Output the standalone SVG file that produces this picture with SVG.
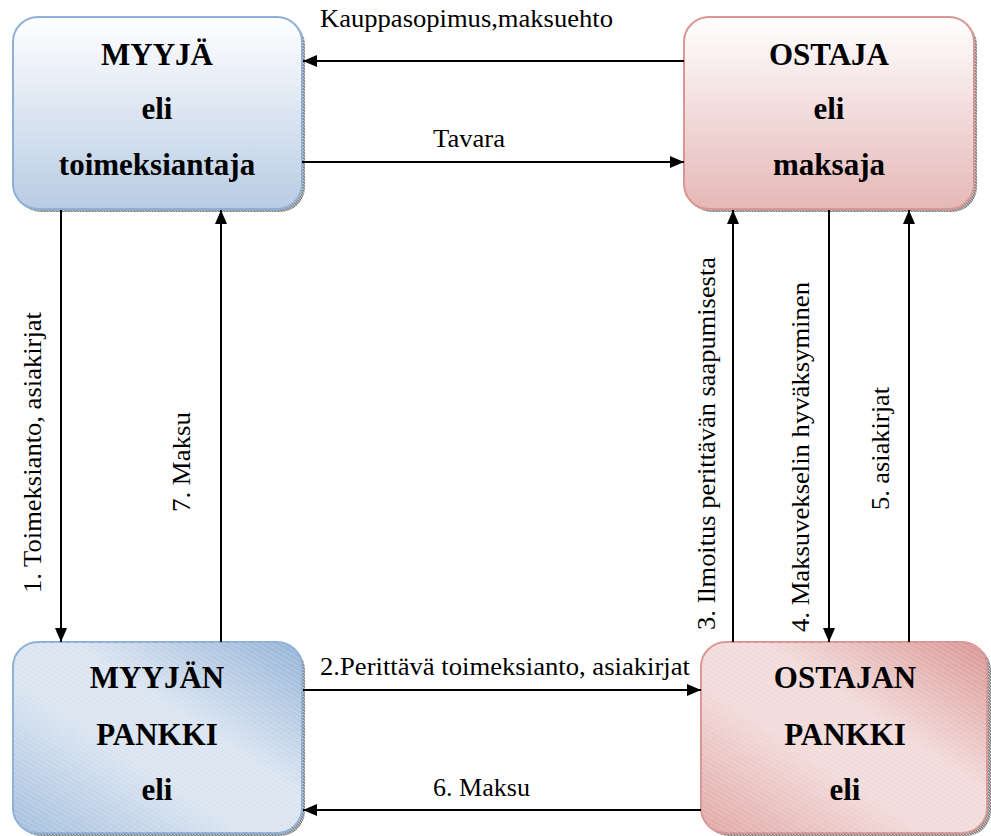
<svg xmlns="http://www.w3.org/2000/svg" width="991" height="836" viewBox="0 0 991 836" font-family="Liberation Serif, DejaVu Serif, serif">
<style>
.bold{font-weight:bold;font-size:31px;fill:#000;text-anchor:middle}
.lbl{font-size:26px;fill:#000}
.conn{stroke:#000;stroke-width:2;fill:none;marker-end:url(#arr)}
.bluebox{stroke:#8eb0d8;stroke-width:2}
.pinkbox{stroke:#d99694;stroke-width:2}
.shadow{fill:url(#hatch)}
</style>
<defs>
<marker id="arr" viewBox="0 0 14 12" refX="14" refY="6" markerWidth="14" markerHeight="12" markerUnits="userSpaceOnUse" orient="auto">
<path d="M0,0 L14,6 L0,12 z" fill="#000"/>
</marker>
<linearGradient id="gBlueTop" x1="0" y1="0" x2="0" y2="1">
<stop offset="0" stop-color="#ffffff"/>
<stop offset="1" stop-color="#b8cce4"/>
</linearGradient>
<linearGradient id="gPinkTop" x1="0" y1="0" x2="0" y2="1">
<stop offset="0" stop-color="#ffffff"/>
<stop offset="1" stop-color="#e5b8b7"/>
</linearGradient>
<linearGradient id="gBlueBot" x1="1" y1="0" x2="0" y2="1">
<stop offset="0" stop-color="#95b3d7"/>
<stop offset="0.4" stop-color="#dbe5f1"/>
<stop offset="0.6" stop-color="#dbe5f1"/>
<stop offset="1" stop-color="#a5bfdd"/>
</linearGradient>
<linearGradient id="gPinkBot" x1="1" y1="0" x2="0" y2="1">
<stop offset="0" stop-color="#d99694"/>
<stop offset="0.4" stop-color="#f2dcdb"/>
<stop offset="0.6" stop-color="#f2dcdb"/>
<stop offset="1" stop-color="#e0a8a6"/>
</linearGradient>
<pattern id="stripes" width="4" height="4" patternUnits="userSpaceOnUse" patternTransform="rotate(30)">
<line x1="0" y1="0" x2="4" y2="0" stroke="#ffffff" stroke-opacity="0.35" stroke-width="1"/>
</pattern>
<pattern id="hatch" width="3" height="3" patternUnits="userSpaceOnUse">
<rect width="3" height="3" fill="#8a8a8a"/>
<line x1="0" y1="0" x2="3" y2="3" stroke="#c8c8c8" stroke-width="1"/>
</pattern>
</defs>

<g id="myyja">
<rect class="shadow" x="16" y="20" width="289" height="192" rx="25"/>
<rect class="bluebox" x="13" y="17" width="289" height="192" rx="25" fill="url(#gBlueTop)"/>
<text class="bold" x="157" y="65">MYYJÄ</text>
<text class="bold" x="157" y="119">eli</text>
<text class="bold" x="157" y="175">toimeksiantaja</text>
</g>

<g id="ostaja">
<rect class="shadow" x="687" y="20" width="290" height="192" rx="25"/>
<rect class="pinkbox" x="684" y="17" width="290" height="192" rx="25" fill="url(#gPinkTop)"/>
<text class="bold" x="829" y="65">OSTAJA</text>
<text class="bold" x="829" y="119">eli</text>
<text class="bold" x="829" y="175">maksaja</text>
</g>

<g id="myyjan-pankki">
<rect class="shadow" x="16" y="645" width="289" height="191" rx="25"/>
<rect class="bluebox" x="13" y="642" width="289" height="191" rx="25" fill="url(#gBlueBot)"/>
<rect x="13" y="642" width="289" height="191" rx="25" fill="url(#stripes)"/>
<text class="bold" x="157" y="688">MYYJÄN</text>
<text class="bold" x="157" y="745">PANKKI</text>
<text class="bold" x="157" y="800">eli</text>
</g>

<g id="ostajan-pankki">
<rect class="shadow" x="704" y="645" width="287" height="191" rx="25"/>
<rect class="pinkbox" x="701" y="642" width="286" height="191" rx="25" fill="url(#gPinkBot)"/>
<rect x="701" y="642" width="286" height="191" rx="25" fill="url(#stripes)"/>
<text class="bold" x="845" y="688">OSTAJAN</text>
<text class="bold" x="845" y="745">PANKKI</text>
<text class="bold" x="845" y="800">eli</text>
</g>

<g id="connectors">
<line class="conn" x1="684" y1="61" x2="303" y2="61"/>
<line class="conn" x1="302" y1="162" x2="684" y2="162"/>
<line class="conn" x1="61" y1="210" x2="61" y2="642"/>
<line class="conn" x1="221" y1="642" x2="221" y2="210"/>
<line class="conn" x1="303" y1="690" x2="701" y2="690"/>
<line class="conn" x1="701" y1="810" x2="303" y2="810"/>
<line class="conn" x1="733" y1="642" x2="733" y2="210"/>
<line class="conn" x1="829" y1="210" x2="829" y2="642"/>
<line class="conn" x1="909" y1="642" x2="909" y2="210"/>
</g>

<g id="labels">
<text class="lbl" x="320" y="27" textLength="293" lengthAdjust="spacingAndGlyphs">Kauppasopimus,maksuehto</text>
<text class="lbl" x="433" y="147" textLength="72" lengthAdjust="spacingAndGlyphs">Tavara</text>
<text class="lbl" x="320" y="675" textLength="370" lengthAdjust="spacingAndGlyphs">2.Perittävä toimeksianto, asiakirjat</text>
<text class="lbl" x="433" y="796" textLength="97" lengthAdjust="spacingAndGlyphs">6. Maksu</text>
<text class="lbl" transform="translate(41,593) rotate(-90)" textLength="281" lengthAdjust="spacingAndGlyphs">1. Toimeksianto, asiakirjat</text>
<text class="lbl" transform="translate(190,512) rotate(-90)" textLength="100" lengthAdjust="spacingAndGlyphs">7. Maksu</text>
<text class="lbl" transform="translate(715,630) rotate(-90)" textLength="373" lengthAdjust="spacingAndGlyphs">3. Ilmoitus perittävän saapumisesta</text>
<text class="lbl" transform="translate(809,632) rotate(-90)" textLength="350" lengthAdjust="spacingAndGlyphs">4. Maksuvekselin hyväksyminen</text>
<text class="lbl" transform="translate(889,510) rotate(-90)" textLength="123" lengthAdjust="spacingAndGlyphs">5. asiakirjat</text>
</g>
</svg>
